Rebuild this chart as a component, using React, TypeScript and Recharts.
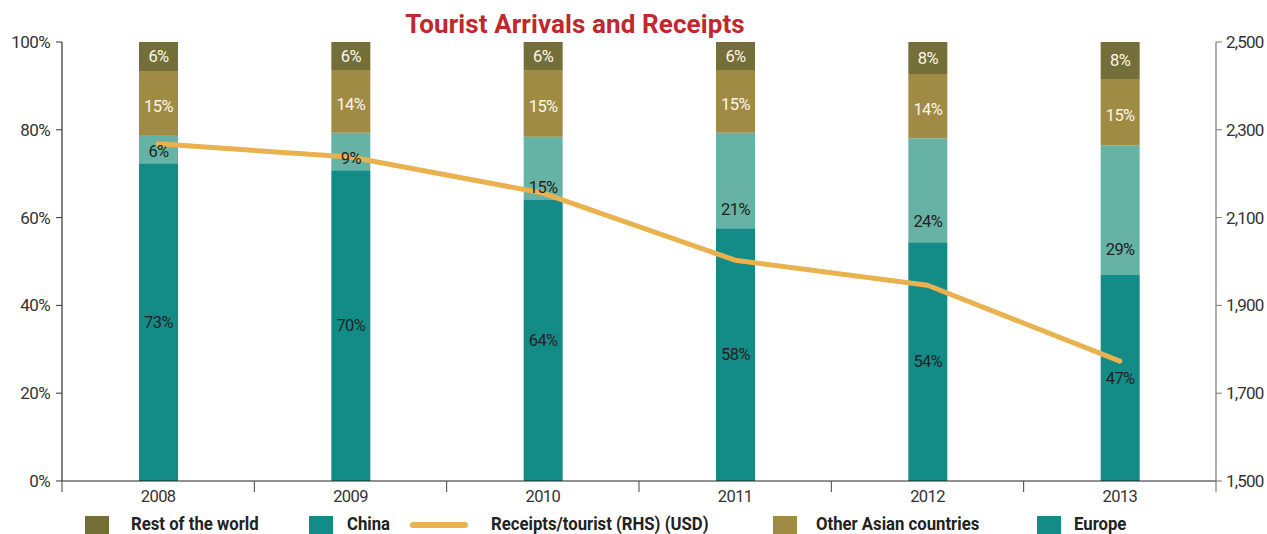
import React from 'react';
import { ComposedChart, Bar, Line, XAxis, YAxis, LabelList } from 'recharts';

const years = ['2008', '2009', '2010', '2011', '2012', '2013'];
const europe = [72.4, 70.8, 64.0, 57.6, 54.4, 46.9];
const china = [6.4, 8.5, 14.4, 21.7, 23.7, 29.6];
const otherAsia = [14.6, 14.3, 15.2, 14.3, 14.6, 15.1];
const restOfWorld = [6.6, 6.4, 6.4, 6.4, 7.3, 8.4];
const europeLabels = [73, 70, 64, 58, 54, 47];
const chinaLabels = [6, 9, 15, 21, 24, 29];
const otherAsiaLabels = [15, 14, 15, 15, 14, 15];
const restLabels = [6, 6, 6, 6, 8, 8];
const receipts = [2268, 2238, 2156, 2003, 1946, 1773];
const leftTicks = [0, 20, 40, 60, 80, 100];
const rightTicks = [1500, 1700, 1900, 2100, 2300, 2500];

const FONT = "Roboto, 'Noto Sans', sans-serif";

const C_REST = '#746F38';
const C_OTHER = '#A08B45';
const C_CHINA = '#66B3A5';
const C_EUROPE = '#138C87';
const C_LINE = '#E9B24F';

const data = years.map((y, i) => ({
  year: y,
  europe: europe[i],
  china: china[i],
  otherAsia: otherAsia[i],
  rest: restOfWorld[i],
  receipts: receipts[i],
}));

const PLOT_LEFT = 62;
const PLOT_RIGHT = 1216;
const STEP = (PLOT_RIGHT - PLOT_LEFT) / years.length;

function XTick(props: any) {
  const { x, y, payload, index } = props;
  return (
    <g>
      <line x1={x - STEP / 2} x2={x - STEP / 2} y1={y} y2={y + 11} stroke="#444" strokeWidth={1} />
      {index === years.length - 1 && (
        <line x1={x + STEP / 2} x2={x + STEP / 2} y1={y} y2={y + 11} stroke="#666" strokeWidth={1} />
      )}
      <text x={x} y={y + 21} textAnchor="middle" fill="#333" fontSize={16.5} letterSpacing={-0.6} fontFamily={FONT}>
        {payload.value}
      </text>
    </g>
  );
}

function makeLabel(labels: number[], color: string, frac: number, pad: number) {
  return (props: any) => {
    const { x, y, width, height, index } = props;
    const ty = Math.min(y + height * frac, y + height - pad);
    return (
      <text
        x={x + width / 2}
        y={ty}
        textAnchor="middle"
        dominantBaseline="central"
        fill={color}
        fontSize={16.5}
        letterSpacing={-0.6}
        fontFamily={FONT}
      >
        {labels[index]}%
      </text>
    );
  };
}

const legendItems = [
  { name: 'Rest of the world', color: C_REST, kind: 'box', sx: 85, tx: 131 },
  { name: 'China', color: C_EUROPE, kind: 'box', sx: 309, tx: 347 },
  { name: 'Receipts/tourist (RHS) (USD)', color: C_LINE, kind: 'line', sx: 410, tx: 491 },
  { name: 'Other Asian countries', color: C_OTHER, kind: 'box', sx: 773, tx: 816 },
  { name: 'Europe', color: C_EUROPE, kind: 'box', sx: 1037, tx: 1074 },
];

export default function App() {
  return (
    <div style={{ position: 'absolute', left: 0, top: 0, width: 1267, height: 534, background: '#fff', overflow: 'hidden', fontFamily: FONT }}>
      <div
        style={{
          position: 'absolute',
          left: 0,
          top: 9,
          width: 1150,
          textAlign: 'center',
          color: '#C1272D',
          fontWeight: 'bold',
          fontSize: 26,
          lineHeight: '30px',
          letterSpacing: 0.1,
          fontFamily: FONT,
        }}
      >
        Tourist Arrivals and Receipts
      </div>
      <ComposedChart width={1267} height={534} data={data} margin={{ top: 42, right: 0, bottom: 0, left: 0 }}>
        <XAxis
          dataKey="year"
          height={53}
          axisLine={{ stroke: '#222', strokeWidth: 1.2 }}
          tickLine={false}
          tickSize={0}
          tickMargin={0}
          tick={<XTick />}
          interval={0}
        />
        <YAxis
          yAxisId="left"
          orientation="left"
          width={62}
          domain={[0, 100]}
          ticks={leftTicks}
          tickFormatter={(v: number) => `${v}%`}
          axisLine={{ stroke: '#333', strokeWidth: 1.2 }}
          tickLine={{ stroke: '#333' }}
          tickSize={6}
          tickMargin={6}
          tick={{ fill: '#333', fontSize: 17, fontFamily: FONT, letterSpacing: -0.6 }}
          allowDataOverflow
        />
        <YAxis
          yAxisId="right"
          orientation="right"
          width={51}
          domain={[1500, 2500]}
          ticks={rightTicks}
          tickFormatter={(v: number) => v.toLocaleString('en-US')}
          axisLine={{ stroke: '#777', strokeWidth: 1.2 }}
          tickLine={{ stroke: '#777' }}
          tickSize={6}
          tickMargin={4}
          tick={{ fill: '#333', fontSize: 17, fontFamily: FONT, letterSpacing: -0.8 }}
        />
        <Bar dataKey="europe" stackId="a" yAxisId="left" fill={C_EUROPE} barSize={39} isAnimationActive={false}>
          <LabelList dataKey="europe" content={makeLabel(europeLabels, '#222', 0.5, 0)} />
        </Bar>
        <Bar dataKey="china" stackId="a" yAxisId="left" fill={C_CHINA} barSize={39} isAnimationActive={false}>
          <LabelList dataKey="china" content={makeLabel(chinaLabels, '#222', 0.8, 12)} />
        </Bar>
        <Bar dataKey="otherAsia" stackId="a" yAxisId="left" fill={C_OTHER} barSize={39} isAnimationActive={false}>
          <LabelList dataKey="otherAsia" content={makeLabel(otherAsiaLabels, '#fbf7ea', 0.55, 0)} />
        </Bar>
        <Bar dataKey="rest" stackId="a" yAxisId="left" fill={C_REST} barSize={39} isAnimationActive={false}>
          <LabelList dataKey="rest" content={makeLabel(restLabels, '#fbf7ea', 0.5, 0)} />
        </Bar>
        <Line
          dataKey="receipts"
          yAxisId="right"
          type="linear"
          stroke={C_LINE}
          strokeWidth={5}
          strokeLinecap="round"
          strokeLinejoin="round"
          dot={false}
          activeDot={false}
          isAnimationActive={false}
        />
      </ComposedChart>
      {legendItems.map((it) => (
        <React.Fragment key={it.name}>
          {it.kind === 'box' ? (
            <div style={{ position: 'absolute', left: it.sx, top: 516, width: 24, height: 18, background: it.color }} />
          ) : (
            <div style={{ position: 'absolute', left: it.sx, top: 522, width: 58, height: 6, borderRadius: 3, background: it.color }} />
          )}
          <div
            style={{
              position: 'absolute',
              left: it.tx,
              top: 514,
              fontSize: 19,
              lineHeight: '20px',
              fontWeight: 'bold',
              color: '#222',
              whiteSpace: 'nowrap',
              fontFamily: FONT,
              transform: 'scaleX(0.88)',
              transformOrigin: 'left center',
            }}
          >
            {it.name}
          </div>
        </React.Fragment>
      ))}
    </div>
  );
}
